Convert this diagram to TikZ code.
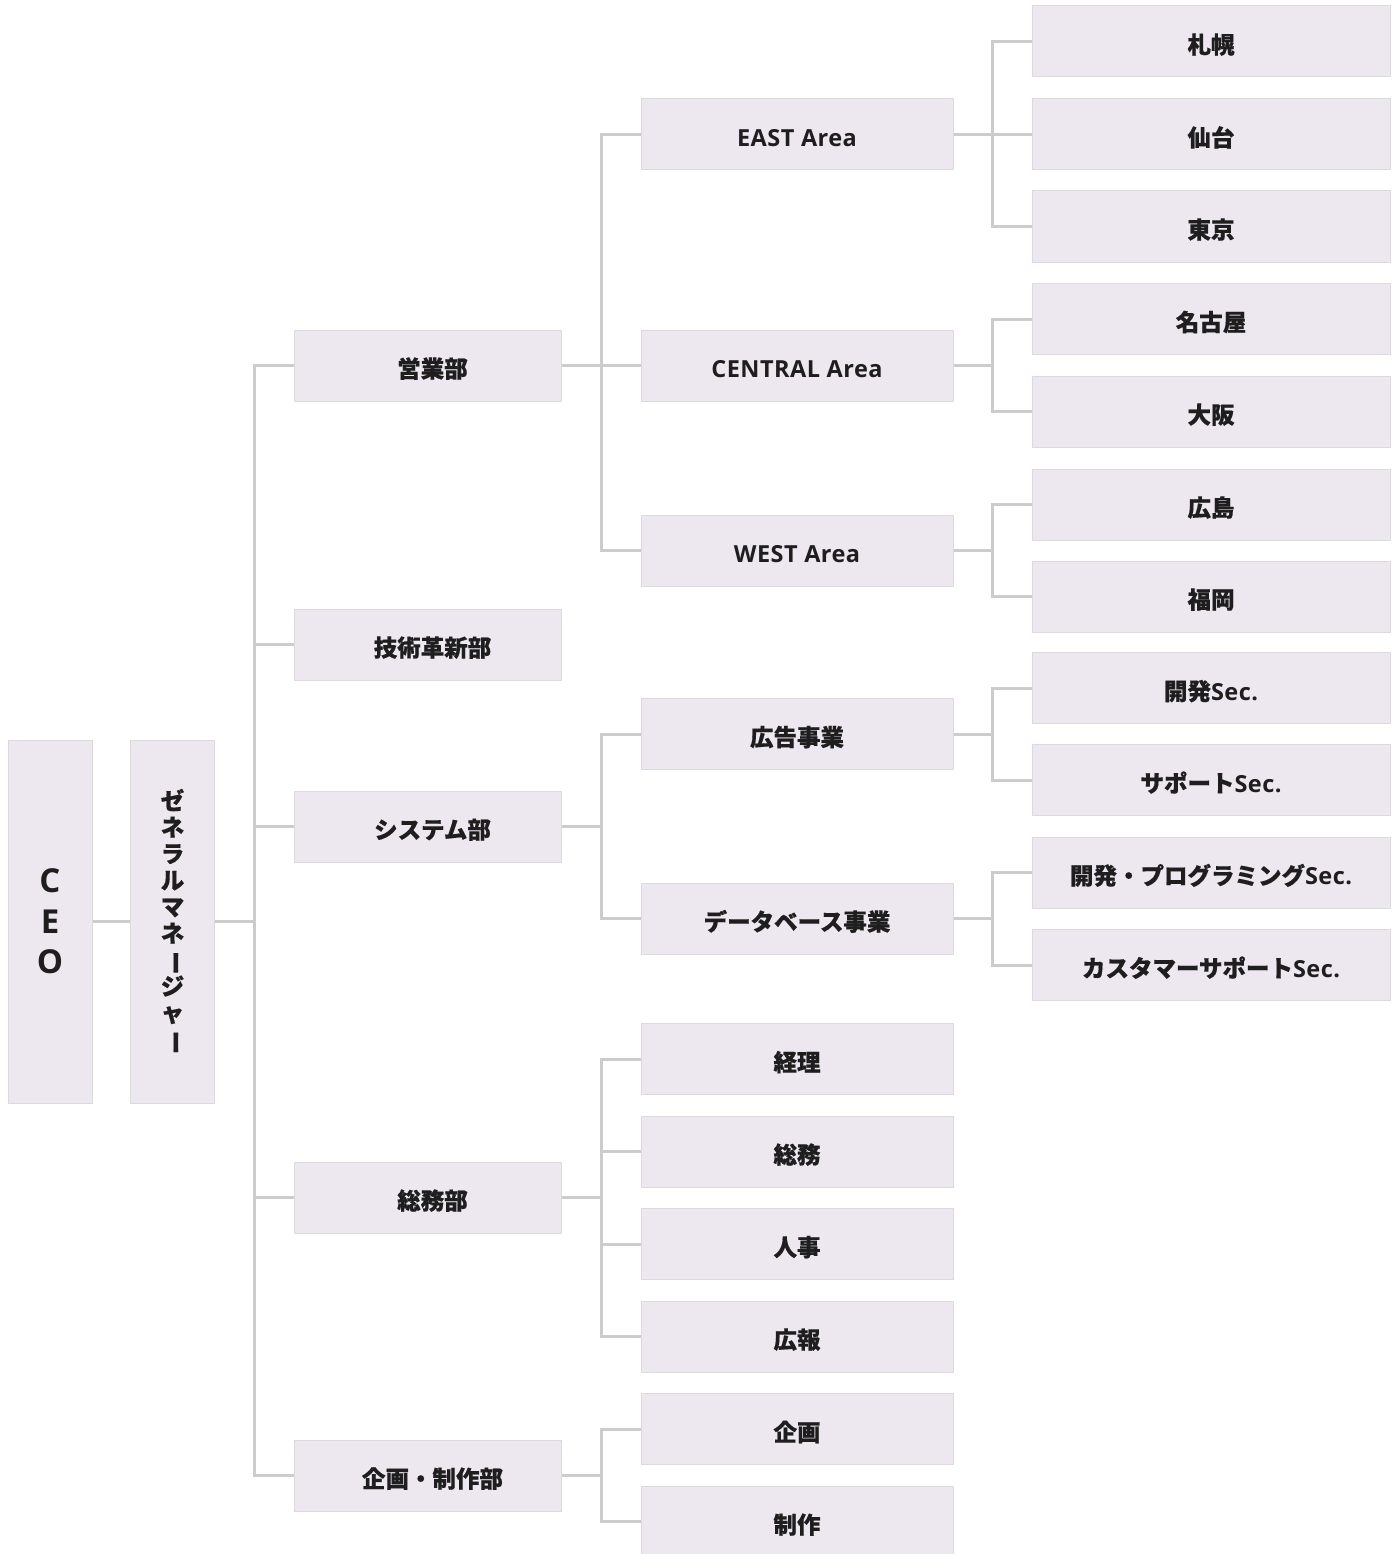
\documentclass[tikz,border=0pt]{standalone}
\usepackage{fontspec}
\setmainfont{Noto Sans CJK JP}[FakeBold=0.5]
\newfontfamily\latf{Open Sans}[LetterSpace=2]
\usetikzlibrary{calc}
\definecolor{boxfill}{HTML}{EDE8F0}
\definecolor{boxline}{HTML}{DCDADE}
\definecolor{conn}{HTML}{CCCCCC}
\definecolor{txt}{HTML}{1E1E1E}
\newcommand\lt[1]{{\latf\bfseries #1}}
\begin{document}
\begin{tikzpicture}[x=1pt,y=-1pt,
  box/.style={draw=boxline,fill=boxfill,line width=1pt,inner sep=0pt,text=txt,
     font=\fontsize{23.5}{28}\selectfont\bfseries,minimum height=71pt,text height=24pt,text depth=0pt},
  lone/.style={box,minimum width=267pt,execute at begin node={\hspace*{10pt}}},
  ltwo/.style={box,minimum width=312pt},
  lthree/.style={box,minimum width=358pt},
  tall/.style={draw=boxline,fill=boxfill,line width=1pt,inner sep=0pt,text=txt,
     minimum width=84pt,minimum height=363pt},
  link/.style={draw=conn,line width=3pt}]
\useasboundingbox (0,0) rectangle (1396,1554);
% level 0
\node[tall,align=center,font=\fontsize{33}{40.5}\selectfont\latf\bfseries] (ceo) at (50,921.5) {C\\E\\O};
\node[tall,align=center,font=\fontsize{23.5}{26.5}\selectfont\bfseries] (gm) at (172.5,921.5)
  {ゼ\\ネ\\ラ\\ル\\マ\\ネ\\\rotatebox[origin=c]{-90}{ー}\\ジ\\ャ\\\rotatebox[origin=c]{-90}{ー}};
% level 1
\node[lone] (eigyo) at (427.5,365.5) {営業部};
\node[lone] (gijutsu) at (427.5,644.5) {技術革新部};
\node[lone] (system) at (427.5,826.5) {システム部};
\node[lone] (somubu) at (427.5,1197.5) {総務部};
\node[lone] (kikakubu) at (427.5,1475.5) {企画・制作部};
% level 2
\node[ltwo] (east) at (797,134.5) {\lt{EAST Area}};
\node[ltwo] (central) at (797,365.5) {\lt{CENTRAL Area}};
\node[ltwo] (west) at (797,550.5) {\lt{WEST Area}};
\node[ltwo] (kokoku) at (797,734) {広告事業};
\node[ltwo] (db) at (797,918.5) {データベース事業};
\node[ltwo] (keiri) at (797,1059) {経理};
\node[ltwo] (somu) at (797,1151.5) {総務};
\node[ltwo] (jinji) at (797,1244) {人事};
\node[ltwo] (koho) at (797,1336.5) {広報};
\node[ltwo] (kikaku) at (797,1429) {企画};
\node[ltwo] (seisaku) at (797,1521.5) {制作};
% level 3
\node[lthree] (sapporo) at (1211,41.5) {札幌};
\node[lthree] (sendai) at (1211,134.5) {仙台};
\node[lthree] (tokyo) at (1211,226.5) {東京};
\node[lthree] (nagoya) at (1211,319) {名古屋};
\node[lthree] (osaka) at (1211,411.5) {大阪};
\node[lthree] (hiroshima) at (1211,504.5) {広島};
\node[lthree] (fukuoka) at (1211,596.5) {福岡};
\node[lthree] (kaihatsu) at (1211,688) {開発\lt{Sec.}};
\node[lthree] (support) at (1211,780) {サポート\lt{Sec.}};
\node[lthree] (prog) at (1211,872.5) {開発・プログラミング\lt{Sec.}};
\node[lthree] (cs) at (1211,965) {カスタマーサポート\lt{Sec.}};
% trunk x positions
\coordinate (va) at (254,0);
\coordinate (vb) at (601,0);
\coordinate (vc) at (992,0);
% connectors
\draw[link] (ceo.east) -- (gm.west);
\foreach \c in {eigyo,gijutsu,system,somubu,kikakubu}
  \draw[link] (gm.east) -- (gm.east -| va) |- (\c.west);
\foreach \c in {east,central,west}
  \draw[link] (eigyo.east) -- (eigyo.east -| vb) |- (\c.west);
\foreach \c in {kokoku,db}
  \draw[link] (system.east) -- (system.east -| vb) |- (\c.west);
\foreach \c in {keiri,somu,jinji,koho}
  \draw[link] (somubu.east) -- (somubu.east -| vb) |- (\c.west);
\foreach \c in {kikaku,seisaku}
  \draw[link] (kikakubu.east) -- (kikakubu.east -| vb) |- (\c.west);
\foreach \c in {sapporo,sendai,tokyo}
  \draw[link] (east.east) -- (east.east -| vc) |- (\c.west);
\foreach \c in {nagoya,osaka}
  \draw[link] (central.east) -- (central.east -| vc) |- (\c.west);
\foreach \c in {hiroshima,fukuoka}
  \draw[link] (west.east) -- (west.east -| vc) |- (\c.west);
\foreach \c in {kaihatsu,support}
  \draw[link] (kokoku.east) -- (kokoku.east -| vc) |- (\c.west);
\foreach \c in {prog,cs}
  \draw[link] (db.east) -- (db.east -| vc) |- (\c.west);
\end{tikzpicture}
\end{document}
